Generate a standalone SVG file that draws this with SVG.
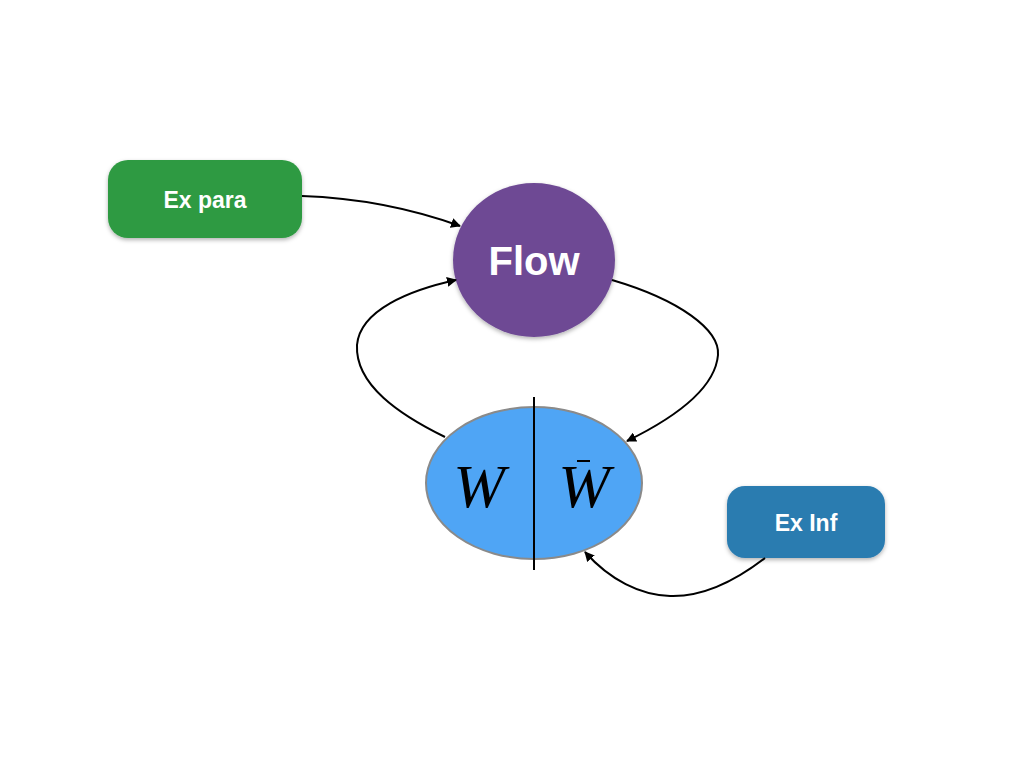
<svg xmlns="http://www.w3.org/2000/svg" width="1024" height="768" viewBox="0 0 1024 768">
<defs>
<marker id="ah" viewBox="0 0 10 10" refX="9" refY="5" markerWidth="10" markerHeight="10" markerUnits="userSpaceOnUse" orient="auto">
<path d="M0,0 L10,5 L0,10 z" fill="#000"/>
</marker>
<filter id="sh" x="-20%" y="-20%" width="140%" height="140%">
<feDropShadow dx="0" dy="2" stdDeviation="2" flood-color="#000" flood-opacity="0.3"/>
</filter>
<style>
.lbl{font-family:"Liberation Sans",Arial,sans-serif;font-weight:bold;fill:#fff;text-anchor:middle}
.math{font-family:"Liberation Serif","Times New Roman",serif;font-style:italic;fill:#000;text-anchor:middle;font-size:62px}
.conn{fill:none;stroke:#000;stroke-width:2;marker-end:url(#ah)}
</style>
</defs>
<rect width="1024" height="768" fill="#fff"/>
<g id="ex-para">
<rect x="108" y="160" width="194" height="78" rx="20" fill="#2e9a42" filter="url(#sh)"/>
<text class="lbl" x="205" y="208" font-size="23">Ex para</text>
</g>
<g id="flow">
<ellipse cx="534" cy="260" rx="81" ry="77" fill="#6e4a94" filter="url(#sh)"/>
<text class="lbl" x="534" y="275" font-size="40">Flow</text>
</g>
<g id="w-node">
<ellipse cx="534" cy="483" rx="108" ry="76" fill="#4fa5f5" stroke="#8a8a8a" stroke-width="2"/>
<line x1="534" y1="397" x2="534" y2="570" stroke="#000" stroke-width="2"/>
<text class="math" x="479" y="507">W</text>
<text class="math" x="584" y="507">W</text>
<line x1="577" y1="461" x2="590" y2="461" stroke="#000" stroke-width="2"/>
</g>
<g id="ex-inf">
<rect x="727" y="486" width="158" height="72" rx="18" fill="#2c7bb0" filter="url(#sh)"/>
<text class="lbl" x="806" y="531" font-size="23">Ex Inf</text>
</g>
<g id="connectors">
<path class="conn" d="M302,196 C360,198 410,208 460,226"/>
<path class="conn" d="M612,280 C680,300 720,330 718,355 C715,390 670,420 627,441"/>
<path class="conn" d="M445,437 C400,415 355,385 357,345 C360,310 410,290 456,280"/>
<path class="conn" d="M765,558 C730,585 700,597 670,596 C640,595 610,580 585,552"/>
</g>
</svg>
